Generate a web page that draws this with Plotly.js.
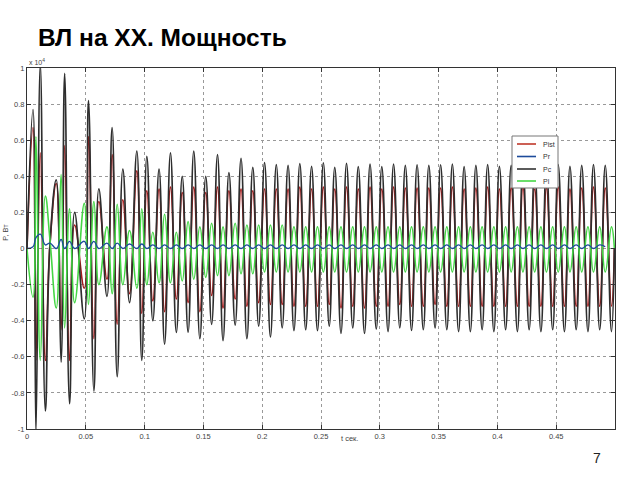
<!DOCTYPE html>
<html>
<head>
<meta charset="utf-8">
<script src="https://cdn.plot.ly/plotly-3.0.1.min.js"></script>
<style>html,body{margin:0;padding:0;background:#fff;}#chart{width:640px;height:480px;}</style>
</head>
<body>
<div id="chart"></div>
<script>
// extrema times (s), shared by all series
const tExt = [0,0.0051,0.0076,0.0113,0.0156,0.0195,0.0249,0.029,0.032,0.0362,0.0405,0.0487,0.0523,0.0569,0.0611,0.068,0.0724,0.0767,0.0815,0.0872,0.0934,0.0976,0.1019,0.107,0.1123,0.117,0.122,0.127,0.132,0.137,0.1418,0.147,0.152,0.157,0.162,0.1667,0.1717,0.177,0.182,0.187,0.192,0.197,0.202,0.207,0.212,0.217,0.222,0.227,0.232,0.237,0.242,0.247,0.252,
0.257,0.2617,0.267,0.2717,0.277,0.2817,0.287,0.2917,0.297,0.3017,0.307,0.3117,0.317,0.3217,0.327,0.3317,0.337,0.3417,0.347,0.3517,0.357,0.3617,0.367,0.3717,0.377,0.3817,0.387,0.3917,0.397,0.4017,0.407,0.4117,0.417,0.4217,0.427,0.4317,0.437,0.4417,0.447,0.4517,0.457,0.4617,0.467,0.4717,0.477,0.4817,0.487,0.4917,0.497,0.4995];

// Pc (black), x10^4 W
const pc = [0,0.77,-1.02,1.02,-0.90,0.02,0.38,-0.63,0.97,-0.86,0.20,-0.39,0.82,-0.79,0.33,-0.265,0.67,-0.71,0.44,-0.30,0.54,-0.62,0.51,-0.40,0.44,-0.53,0.53,-0.465,0.40,-0.463,0.54,-0.50,0.40,-0.42,0.52,-0.51,0.42,-0.424,0.50,-0.50,0.45,-0.43,0.476,-0.49,0.465,-0.44,0.46,-0.455,0.47,-0.45,0.455,-0.455,0.475,
-0.43,0.45,-0.47,0.472,-0.44,0.454,-0.47,0.467,-0.446,0.454,-0.46,0.467,-0.44,0.461,-0.454,0.464,-0.45,0.461,-0.44,0.464,-0.45,0.467,-0.46,0.454,-0.46,0.46,-0.45,0.465,-0.46,0.455,-0.45,0.46,-0.46,0.465,-0.45,0.455,-0.46,0.46,-0.45,0.465,-0.46,0.455,-0.45,0.46,-0.46,0.465,-0.45,0.46,-0.46,0.0];

// Pist (red)
const pist = [0,0.67,-0.62,0.53,-0.62,0.02,0.36,-0.45,0.57,-0.62,0.13,-0.22,0.62,-0.50,0.26,-0.17,0.52,-0.42,0.27,-0.25,0.43,-0.36,0.32,-0.29,0.33,-0.35,0.34,-0.28,0.31,-0.30,0.34,-0.35,0.31,-0.26,0.34,-0.33,0.32,-0.28,0.33,-0.32,0.32,-0.30,0.33,-0.31,0.33,-0.31,0.33,-0.32,0.34,-0.32,0.33,-0.32,0.34,
-0.31,0.33,-0.33,0.34,-0.32,0.33,-0.33,0.34,-0.32,0.33,-0.32,0.34,-0.31,0.335,-0.32,0.335,-0.32,0.335,-0.31,0.335,-0.32,0.34,-0.32,0.33,-0.32,0.335,-0.32,0.34,-0.32,0.33,-0.32,0.335,-0.32,0.34,-0.32,0.33,-0.32,0.335,-0.32,0.34,-0.32,0.33,-0.32,0.335,-0.32,0.34,-0.32,0.335,-0.32,0.0];

// Pl (green)
const pl = [0,-0.27,0.62,-0.62,0.29,0.05,-0.33,0.41,-0.44,0.22,-0.30,0.25,-0.31,0.26,-0.20,0.12,-0.25,0.245,-0.20,0.10,-0.22,0.22,-0.20,0.09,-0.19,0.19,-0.19,0.09,-0.18,0.15,-0.17,0.12,-0.16,0.14,-0.15,0.12,-0.15,0.14,-0.14,0.13,-0.14,0.13,-0.13,0.13,-0.13,0.13,-0.13,0.12,-0.13,0.12,-0.13,0.12,-0.13,
0.12,-0.13,0.12,-0.13,0.12,-0.13,0.12,-0.13,0.12,-0.13,0.12,-0.13,0.12,-0.13,0.12,-0.13,0.12,-0.13,0.12,-0.13,0.12,-0.13,0.12,-0.13,0.12,-0.13,0.12,-0.13,0.12,-0.13,0.12,-0.13,0.12,-0.13,0.12,-0.13,0.12,-0.13,0.12,-0.13,0.12,-0.13,0.12,-0.13,0.12,-0.13,0.12,-0.13,0.12,0.0];

// Pr (blue)
const pr = [0,0.01,0.06,0.08,0.02,0.03,0.0,0.05,0.0,0.04,0.0,0.04,0.0,0.04,0.0,0.03,0.0,0.03,0.0,0.025,0.0,0.025,0.0,0.02,0.0,0.02,0.0,0.02,0.0,0.02,0.0,0.02,0.0,0.02,0.0,0.02,0.0,0.02,0.0,0.02,0.0,0.02,0.0,0.02,0.0,0.02,0.0,0.02,0.0,0.02,0.0,0.02,0.0,
0.02,0.0,0.02,0.0,0.02,0.0,0.02,0.0,0.02,0.0,0.02,0.0,0.02,0.0,0.02,0.0,0.02,0.0,0.02,0.0,0.02,0.0,0.02,0.0,0.02,0.0,0.02,0.0,0.02,0.0,0.02,0.0,0.02,0.0,0.02,0.0,0.02,0.0,0.02,0.0,0.02,0.0,0.02,0.0,0.02,0.0,0.02,0.01];

const xTicks = [0,0.05,0.1,0.15,0.2,0.25,0.3,0.35,0.4,0.45];
const xTickText = ['0','0.05','0.1','0.15','0.2','0.25','0.3','0.35','0.4','0.45'];
const yTicks = [-1,-0.8,-0.6,-0.4,-0.2,0,0.2,0.4,0.6,0.8,1];
const yTickText = ['-1','-0.8','-0.6','-0.4','-0.2','0','0.2','0.4','0.6','0.8','1'];

// legend entries (order as in reference)
const legNames = ['Pist', 'Pr', 'Pc', 'Pl'];
const legColors = ['#c0392b', '#1d4b9b', '#333333', '#45d645'];

const mk = (name, y, color, width) => ({
  x: tExt, y: y, name: name, type: 'scatter', mode: 'lines',
  line: {color: color, width: width, shape: 'spline', smoothing: 1.3}
});

const data = [
  mk('Pist', pist, '#a31a1a', 1.6),
  mk('Pc', pc, '#2e2e2e', 1.7),
  mk('Pl', pl, '#45d645', 1.6),
  mk('Pr', pr, '#1d4b9b', 1.3)
];

const FF = 'Liberation Sans, Arial, sans-serif';
const tickFont = {family: FF, size: 7.5, color: '#444'};

// plot area in px: x 27..615, y 68..429
const px = v => (v - 27) / 588;
const py = v => (429 - v) / 361;

const shapes = [
  {type: 'rect', xref: 'paper', yref: 'paper', x0: px(512), x1: px(558), y0: py(188), y1: py(136),
   fillcolor: '#fff', line: {color: '#777', width: 1}, layer: 'above'}
];
const annotations = [
  {text: 't сек.', xref: 'paper', yref: 'paper', x: 0.548, y: -0.025, xanchor: 'center', yanchor: 'middle', showarrow: false, font: {family: FF, size: 7.5, color: '#444'}},
  {text: 'P, Вт', xref: 'paper', yref: 'paper', x: -0.036, y: 0.546, xanchor: 'center', yanchor: 'middle', textangle: -90, showarrow: false, font: {family: FF, size: 7.5, color: '#444'}},
  {text: 'x 10<sup>4</sup>', xref: 'paper', yref: 'paper', x: 0, y: 1.017, xanchor: 'left', yanchor: 'middle', showarrow: false, font: {family: FF, size: 7, color: '#444'}},
  {text: '7', xref: 'paper', yref: 'paper', x: 0.969, y: -0.080, xanchor: 'center', yanchor: 'middle', showarrow: false, font: {family: FF, size: 14, color: '#222'}}
];
const legY = [144, 156.5, 169, 181];
legNames.forEach((n, i) => {
  shapes.push({type: 'line', xref: 'paper', yref: 'paper', x0: px(517), x1: px(536), y0: py(legY[i]), y1: py(legY[i]),
    line: {color: legColors[i], width: 1.6}, layer: 'above'});
  annotations.push({text: n, xref: 'paper', yref: 'paper', x: px(541), y: py(legY[i]), xanchor: 'left', yanchor: 'middle',
    showarrow: false, font: {family: FF, size: 7, color: '#333'}});
});

const layout = {
  width: 640, height: 480,
  paper_bgcolor: '#fff', plot_bgcolor: '#fff',
  margin: {l: 27, r: 25, t: 68, b: 51},
  title: {
    text: 'ВЛ на ХХ. Мощность',
    font: {family: FF, size: 24.5, color: '#000', weight: 'bold'},
    x: 38/640, xanchor: 'left', xref: 'container',
    y: 1 - 37/480, yanchor: 'middle', yref: 'container'
  },
  showlegend: false,
  xaxis: {
    range: [0, 0.5], tickvals: xTicks, ticktext: xTickText,
    tickfont: tickFont, ticks: 'inside', ticklen: 4, tickcolor: '#333',
    showline: true, linecolor: '#333', linewidth: 1, mirror: 'ticks',
    showgrid: true, gridcolor: '#999', griddash: 'dot', gridwidth: 1,
    zeroline: false, fixedrange: true
  },
  yaxis: {
    range: [-1, 1], tickvals: yTicks, ticktext: yTickText,
    tickfont: tickFont, ticks: 'inside', ticklen: 4, tickcolor: '#333',
    showline: true, linecolor: '#333', linewidth: 1, mirror: 'ticks',
    showgrid: true, gridcolor: '#999', griddash: 'dot', gridwidth: 1,
    zeroline: false, fixedrange: true
  },
  shapes: shapes,
  annotations: annotations
};

Plotly.newPlot('chart', data, layout, {displayModeBar: false, staticPlot: true});
</script>
</body>
</html>
